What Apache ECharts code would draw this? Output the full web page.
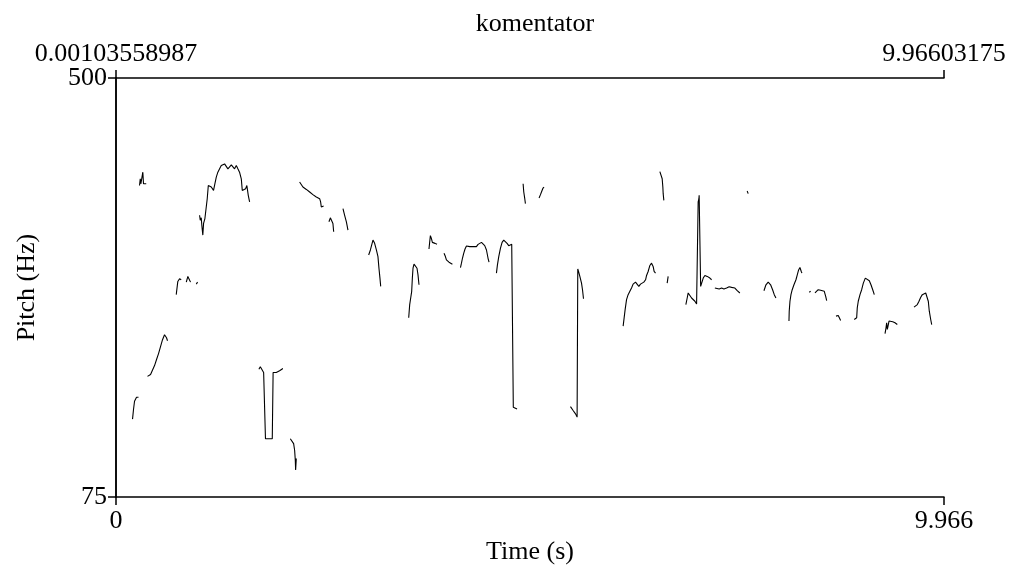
<!DOCTYPE html>
<html>
<head>
<meta charset="utf-8">
<script src="https://cdn.jsdelivr.net/npm/echarts@6/dist/echarts.min.js"></script>
<style>
  html, body { margin: 0; padding: 0; background: #fff; }
  #chart { width: 1009px; height: 570px; }
</style>
</head>
<body>
<div id="chart"></div>
<script>
// Pitch contour of "komentator": voiced stretches as [time (s), F0 (Hz)]
const seg01 = [[0.199,154.1],[0.211,164.1],[0.223,172.2],[0.247,176.2],[0.271,176.2]];
const seg02 = [[0.283,391.0],[0.292,397.8],[0.299,392.7],[0.311,394.5],[0.323,404.5],[0.331,392.7],[0.347,394.5],[0.364,392.7]];
const seg03 = [[0.379,197.4],[0.416,199.4],[0.440,200.4],[0.464,208.4],[0.488,214.5],[0.512,220.5],[0.536,227.6],[0.560,234.6],[0.584,239.7],[0.596,240.7],[0.608,236.6],[0.620,233.6]];
const seg04 = [[0.725,280.3],[0.744,293.7],[0.765,296.4],[0.785,295.4]];
const seg05 = [[0.846,293.0],[0.865,298.8],[0.885,297.1],[0.897,293.0]];
const seg06 = [[0.966,291.0],[0.982,293.0]];
const seg07 = [[1.006,360.8],[1.014,355.8],[1.026,358.2],[1.033,350.7],[1.045,340.7],[1.054,352.5],[1.070,357.5],[1.086,359.2],[1.098,377.6],[1.111,391.0],[1.126,392.7],[1.147,389.4],[1.174,386.0],[1.190,392.7],[1.207,399.5],[1.226,404.5],[1.247,407.9],[1.267,411.2],[1.286,411.2],[1.307,412.9],[1.327,411.9],[1.347,407.9],[1.367,409.6],[1.388,411.9],[1.407,410.6],[1.427,407.9],[1.448,411.2],[1.467,407.9],[1.487,404.5],[1.508,397.8],[1.520,386.0],[1.536,384.4],[1.560,387.7],[1.575,391.0],[1.592,381.0],[1.608,374.3]];
const seg08 = [[1.720,204.7],[1.737,207.1],[1.761,206.4],[1.777,201.4],[1.789,199.7],[1.799,134.2],[1.816,134.2],[1.881,134.2],[1.891,201.4],[1.909,202.4],[1.929,201.4],[1.969,203.1],[2.009,205.4]];
const seg09 = [[2.098,134.2],[2.122,132.6],[2.138,129.2],[2.150,122.5],[2.158,112.5],[2.162,102.4],[2.170,114.1]];
const seg10 = [[2.210,394.5],[2.231,392.7],[2.250,389.4],[2.270,390.4],[2.291,387.0],[2.310,386.0],[2.331,384.4],[2.351,382.7],[2.370,381.7],[2.391,381.0],[2.411,379.3],[2.431,380.4],[2.451,377.6],[2.463,374.3],[2.471,369.3],[2.484,370.9],[2.499,370.3]];
const seg11 = [[2.563,354.2],[2.580,358.2],[2.592,359.2],[2.611,352.5],[2.620,344.1]];
const seg12 = [[2.732,367.6],[2.752,360.8],[2.773,354.2],[2.792,345.7]];
const seg13 = [[3.041,320.5],[3.062,325.6],[3.077,330.6],[3.093,335.6],[3.113,332.3],[3.134,325.6],[3.153,318.9],[3.165,307.1],[3.177,297.1],[3.186,288.7]];
const seg14 = [[3.523,256.8],[3.535,270.2],[3.547,276.9],[3.559,283.7],[3.567,297.1],[3.575,307.1],[3.587,311.2],[3.604,310.5],[3.623,307.1],[3.635,300.4],[3.647,290.3]];
const seg15 = [[3.767,326.6],[3.776,334.0],[3.784,340.1],[3.796,337.4],[3.808,333.3],[3.824,334.0],[3.840,332.3],[3.864,331.3]];
const seg16 = [[3.948,322.2],[3.965,318.9],[3.977,315.5],[3.989,313.9],[4.008,313.2],[4.025,312.2],[4.049,311.2]];
const seg17 = [[4.146,307.8],[4.158,312.2],[4.170,317.2],[4.185,322.2],[4.201,326.6],[4.218,329.6],[4.237,330.6],[4.258,329.0],[4.278,329.6],[4.297,329.0],[4.318,328.0],[4.338,329.0],[4.358,331.3],[4.378,333.0],[4.399,333.3],[4.418,332.3],[4.438,330.0],[4.459,325.6],[4.478,317.2],[4.490,313.2]];
const seg18 = [[4.579,302.1],[4.591,310.5],[4.607,318.9],[4.627,327.3],[4.647,333.3],[4.667,335.6],[4.688,334.0],[4.707,332.3],[4.727,330.0],[4.748,330.0],[4.763,331.3],[4.772,330.0],[4.782,166.1],[4.800,165.4],[4.827,164.4]];
const seg19 = [[4.900,392.7],[4.908,384.4],[4.920,377.6],[4.928,372.6]];
const seg20 = [[5.092,378.3],[5.109,381.7],[5.121,384.4],[5.133,386.0],[5.140,388.4],[5.152,389.4]];
const seg21 = [[5.470,166.8],[5.502,162.8],[5.531,159.4],[5.550,156.1],[5.558,306.4],[5.567,303.8],[5.583,298.8],[5.603,292.0],[5.615,285.3],[5.627,276.2]];
const seg22 = [[6.104,248.4],[6.116,256.8],[6.128,265.1],[6.145,275.2],[6.164,280.3],[6.185,283.7],[6.205,287.0],[6.224,291.0],[6.253,293.0],[6.273,292.0],[6.293,288.7],[6.313,291.0],[6.333,290.3],[6.353,293.0],[6.374,295.4],[6.386,299.8],[6.405,303.8],[6.426,309.9],[6.446,312.2],[6.465,308.9],[6.477,303.8],[6.494,302.1]];
const seg23 = [[6.546,405.1],[6.566,403.8],[6.574,397.8],[6.582,389.4],[6.586,382.7],[6.594,375.9]];
const seg24 = [[6.634,292.0],[6.639,293.7],[6.646,298.8]];
const seg25 = [[6.859,270.2],[6.875,276.9],[6.887,282.0],[6.907,280.3],[6.928,276.9],[6.947,275.2],[6.968,273.6],[6.988,270.9],[7.000,271.9],[7.007,374.3],[7.016,377.6],[7.019,381.0],[7.028,382.7],[7.037,288.7],[7.048,288.7],[7.068,297.1],[7.088,299.8],[7.116,298.8],[7.148,297.1],[7.169,295.4]];
const seg26 = [[7.208,287.0],[7.229,286.3],[7.260,286.0],[7.289,287.0],[7.317,286.0],[7.349,287.0],[7.381,288.3],[7.410,287.7],[7.449,287.0],[7.477,284.3],[7.509,282.0]];
const seg27 = [[7.597,385.4],[7.609,382.7]];
const seg28 = [[7.799,284.3],[7.823,290.3],[7.850,293.0],[7.879,290.3],[7.903,285.3],[7.923,280.3],[7.943,276.9]];
const seg29 = [[8.100,253.5],[8.103,263.5],[8.112,273.6],[8.124,280.3],[8.139,285.3],[8.160,290.3],[8.184,295.4],[8.200,300.4],[8.216,305.4],[8.232,307.8],[8.248,303.8],[8.256,302.1]];
const seg30 = [[8.344,282.7],[8.361,283.7]];
const seg31 = [[8.413,282.0],[8.433,283.7],[8.452,285.3],[8.481,284.7],[8.505,285.3],[8.525,283.7],[8.542,278.6],[8.554,274.2]];
const seg32 = [[8.666,258.5],[8.693,259.1],[8.714,257.5],[8.722,254.1]];
const seg33 = [[8.886,255.1],[8.915,256.8],[8.922,266.9],[8.934,273.6],[8.955,280.3],[8.975,285.3],[8.995,292.0],[9.019,297.1],[9.043,297.8],[9.067,294.4],[9.087,290.3],[9.108,285.3],[9.127,280.3]];
const seg34 = [[9.256,240.7],[9.268,246.7],[9.276,251.8],[9.284,245.0],[9.296,250.0],[9.304,253.5],[9.316,251.8],[9.328,254.1],[9.349,252.8],[9.376,251.8],[9.404,250.0]];
const seg35 = [[9.605,267.6],[9.626,269.6],[9.645,270.2],[9.665,273.6],[9.686,277.6],[9.705,280.3],[9.726,279.6],[9.746,282.0],[9.765,280.3],[9.777,273.6],[9.789,263.5],[9.806,255.1],[9.818,250.0]];

const contours = [seg01, seg02, seg03, seg04, seg05, seg06, seg07, seg08, seg09, seg10,
  seg11, seg12, seg13, seg14, seg15, seg16, seg17, seg18, seg19, seg20,
  seg21, seg22, seg23, seg24, seg25, seg26, seg27, seg28, seg29, seg30,
  seg31, seg32, seg33, seg34, seg35];

// Axis ranges and the labels Praat prints at their ends
const timeRange = [0, 9.966];
const timeLabels = ['0', '9.966'];
const domainLabels = ['0.00103558987', '9.96603175'];
const pitchRange = [75, 500];
const pitchLabels = ['75', '500'];
const titleText = 'komentator';

const FONT = '"Liberation Serif", "Times New Roman", serif';
const FS = 26;

const chart = echarts.init(document.getElementById('chart'), null, { renderer: 'canvas' });

const endLabel = (vals, labels) => (v) => {
  const i = vals.findIndex(x => Math.abs(x - v) < 1e-9);
  return i >= 0 ? labels[i] : '';
};

chart.setOption({
  animation: false,
  backgroundColor: '#ffffff',
  title: {
    text: titleText,
    left: 530,
    top: 6,
    textAlign: 'center',
    textStyle: { fontFamily: FONT, fontSize: FS, fontWeight: 'normal', color: '#000' }
  },
  grid: { left: 116, right: 65, top: 78, bottom: 70, containLabel: false },
  xAxis: [
    {
      type: 'value', position: 'bottom',
      min: timeRange[0], max: timeRange[1],
      name: 'Time (s)', nameLocation: 'middle', nameGap: 36,
      nameTextStyle: { fontFamily: FONT, fontSize: FS, color: '#000' },
      axisLine: { show: true, lineStyle: { color: '#000', width: 1.5 } },
      axisTick: { show: true, inside: false, length: 8, customValues: timeRange, lineStyle: { color: '#000', width: 1.5 } },
      axisLabel: { show: true, margin: 11, customValues: timeRange, formatter: endLabel(timeRange, timeLabels),
        fontFamily: FONT, fontSize: FS, color: '#000' },
      splitLine: { show: false }
    },
    {
      type: 'value', position: 'top',
      min: timeRange[0], max: timeRange[1],
      axisLine: { show: true, lineStyle: { color: '#000', width: 1.5 } },
      axisTick: { show: true, inside: false, length: 8, customValues: timeRange, lineStyle: { color: '#000', width: 1.5 } },
      axisLabel: { show: true, margin: 11, customValues: timeRange, formatter: endLabel(timeRange, domainLabels),
        fontFamily: FONT, fontSize: FS, color: '#000' },
      splitLine: { show: false }
    }
  ],
  yAxis: [
    {
      type: 'value', position: 'left',
      min: pitchRange[0], max: pitchRange[1],
      name: 'Pitch (Hz)', nameLocation: 'middle', nameGap: 76, nameRotate: 90,
      nameTextStyle: { fontFamily: FONT, fontSize: FS, color: '#000' },
      axisLine: { show: true, lineStyle: { color: '#000', width: 1.5 } },
      axisTick: { show: true, inside: false, length: 8, customValues: pitchRange, lineStyle: { color: '#000', width: 1.5 } },
      axisLabel: { show: true, margin: 9, customValues: pitchRange, formatter: endLabel(pitchRange, pitchLabels),
        fontFamily: FONT, fontSize: FS, color: '#000' },
      splitLine: { show: false }
    },
    {
      type: 'value', position: 'right',
      min: pitchRange[0], max: pitchRange[1],
      axisLine: { show: true, lineStyle: { color: '#000', width: 1.5 } },
      axisTick: { show: false },
      axisLabel: { show: false },
      splitLine: { show: false }
    }
  ],
  series: contours.map((pts, i) => ({
    name: 'f0-' + (i + 1),
    type: 'line',
    xAxisIndex: 0,
    yAxisIndex: 0,
    data: pts,
    showSymbol: false,
    symbol: 'none',
    smooth: false,
    silent: true,
    lineStyle: { color: '#000', width: 1.1 }
  }))
});
</script>
</body>
</html>
